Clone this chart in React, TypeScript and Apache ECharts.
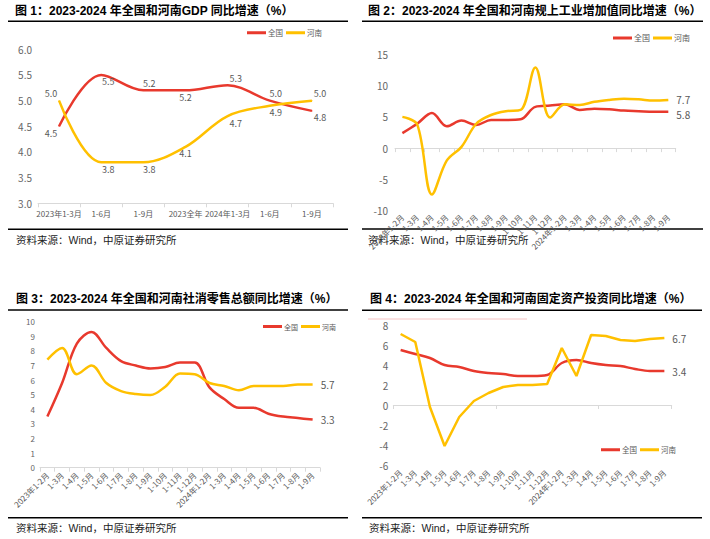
import React, { useEffect, useRef } from 'react';
import * as echarts from 'echarts';

// ---------- Data ----------
const gdpCategories = ['2023年1-3月', '1-6月', '1-9月', '2023全年', '2024年1-3月', '1-6月', '1-9月'];
const gdpNational = [4.5, 5.5, 5.2, 5.2, 5.3, 5.0, 4.8];
const gdpHenan = [5.0, 3.8, 3.8, 4.1, 4.7, 4.9, 5.0];

const monthCategories = [
  '2023年1-2月', '1-3月', '1-4月', '1-5月', '1-6月', '1-7月', '1-8月', '1-9月', '1-10月', '1-11月', '1-12月',
  '2024年1-2月', '1-3月', '1-4月', '1-5月', '1-6月', '1-7月', '1-8月', '1-9月',
];

const ipNational = [2.4, 3.9, 5.6, 3.5, 4.4, 3.7, 4.5, 4.5, 4.6, 6.6, 6.8, 7.0, 6.1, 6.3, 6.2, 6.0, 5.9, 5.8, 5.8];
const ipHenan = [5.0, 3.8, -7.4, -2.0, 0.2, 3.9, 5.3, 5.9, 6.1, 12.9, 4.9, 7.0, 6.9, 7.4, 7.7, 7.9, 7.8, 7.6, 7.7];

const retailNational = [3.5, 5.8, 8.5, 9.3, 8.2, 7.3, 7.0, 6.8, 6.9, 7.2, 7.2, 5.5, 4.7, 4.1, 4.1, 3.7, 3.5, 3.4, 3.3];
const retailHenan = [7.4, 8.2, 6.4, 7.0, 5.8, 5.25, 5.05, 4.98, 5.55, 6.45, 6.4, 5.8, 5.6, 5.3, 5.6, 5.6, 5.6, 5.7, 5.7];

const faiNational = [5.5, 5.1, 4.7, 4.0, 3.8, 3.4, 3.2, 3.1, 2.9, 2.9, 3.0, 4.2, 4.5, 4.2, 4.0, 3.9, 3.6, 3.4, 3.4];
const faiHenan = [7.1, 6.3, -0.2, -4.1, -1.2, 0.4, 1.2, 1.8, 2.0, 2.0, 2.1, 5.7, 2.9, 7.0, 6.9, 6.5, 6.4, 6.6, 6.7];

const seriesNames = ['全国', '河南'];
const titles = [
  '图 1：2023-2024 年全国和河南GDP 同比增速（%）',
  '图 2：2023-2024 年全国和河南规上工业增加值同比增速（%）',
  '图 3：2023-2024 年全国和河南社消零售总额同比增速（%）',
  '图 4：2023-2024 年全国和河南固定资产投资同比增速（%）',
];
const sourceText = '资料来源：Wind，中原证券研究所';

// ---------- Styles ----------
const FONT = "'Noto Sans CJK SC', 'Noto Sans', sans-serif";
const TITLE_FONT = "'Liberation Sans', 'Noto Sans CJK SC', sans-serif";
const RED = '#E8392D';
const YELLOW = '#FFC000';
const AXIS_GRAY = '#D9D9D9';
const LABEL_GRAY = '#595959';

const gdpNationalLabelPos = ['bottom', 'bottom', 'top', 'bottom', 'top', 'top', 'bottom'];
const gdpHenanLabelPos = ['top', 'bottom', 'bottom', 'bottom', 'bottom', 'bottom', 'top'];
const gdpLabelDx = [-8, 7, 6, 0, 8, 6, 8];

const fmt1 = (v: number) => Number(v).toFixed(1);

function catAxis(gridIndex: number, data: string[], extra: any = {}) {
  return {
    type: 'category',
    gridIndex,
    data,
    boundaryGap: true,
    position: 'bottom',
    axisLine: { show: true, onZero: true, lineStyle: { color: AXIS_GRAY, width: 1 } },
    axisTick: { show: true, length: 4, lineStyle: { color: AXIS_GRAY } },
    splitLine: { show: false },
    ...extra,
  };
}

function valAxis(gridIndex: number, min: number, max: number, interval: number, label: any) {
  return {
    type: 'value',
    gridIndex,
    min,
    max,
    interval,
    axisLine: { show: false },
    axisTick: { show: false },
    splitLine: { show: false },
    axisLabel: { color: '#666', fontFamily: FONT, ...label },
  };
}

function lineSeries(name: string, color: string, xi: number, yi: number, data: any[], extra: any = {}) {
  return {
    type: 'line',
    name,
    xAxisIndex: xi,
    yAxisIndex: yi,
    data,
    color,
    symbol: 'none',
    smooth: 0.35,
    lineStyle: { color, width: 2.5 },
    ...extra,
  };
}

function endLabel(offsetY = 0) {
  return {
    show: true,
    formatter: (p: any) => fmt1(p.value),
    color: LABEL_GRAY,
    fontSize: 10,
    fontFamily: FONT,
    distance: 8,
    offset: [0, offsetY],
  };
}

function legend(left: number, top: number, fontSize: number) {
  return {
    data: seriesNames,
    left,
    top,
    orient: 'horizontal',
    icon: 'rect',
    itemWidth: 19,
    itemHeight: 3,
    itemGap: 3,
    padding: 0,
    selectedMode: false,
    textStyle: { fontSize, color: LABEL_GRAY, fontFamily: FONT, padding: [0, 0, 0, -3] },
  };
}

function panelGraphics(titleX: number, titleY: number, lineX1: number, lineX2: number, topLineY: number, bottomLineY: number, srcX: number, srcY: number, title: string) {
  return [
    {
      type: 'text',
      x: titleX,
      y: titleY,
      style: { text: title, fontSize: 12, fontWeight: 'bold', fontFamily: TITLE_FONT, fill: '#000', verticalAlign: 'middle', align: 'left' },
    },
    { type: 'line', shape: { x1: lineX1, y1: topLineY, x2: lineX2, y2: topLineY }, style: { stroke: '#000', lineWidth: 1.5 } },
    { type: 'line', shape: { x1: lineX1, y1: bottomLineY, x2: lineX2, y2: bottomLineY }, style: { stroke: '#000', lineWidth: 1.5 } },
    {
      type: 'text',
      x: srcX,
      y: srcY,
      style: { text: sourceText, fontSize: 10.5, fontFamily: TITLE_FONT, fill: '#222', verticalAlign: 'middle', align: 'left' },
    },
  ];
}

export default function App() {
  const ref = useRef<HTMLDivElement>(null);

  useEffect(() => {
    if (!ref.current) return;
    const chart = echarts.init(ref.current, undefined, { renderer: 'svg' });

    const gdpLabel = { show: true, formatter: (p: any) => fmt1(p.value), color: LABEL_GRAY, fontSize: 9, fontFamily: FONT, distance: 2 };
    const gdpSeriesExtra = { symbol: 'circle', symbolSize: 1, showSymbol: true };

    const option: any = {
      animation: false,
      backgroundColor: '#fff',
      textStyle: { fontFamily: FONT },
      grid: [
        { left: 38, top: 49.3, width: 295, height: 154 },
        { left: 395, top: 54.3, width: 280.7, height: 156.4 },
        { left: 40, top: 321.7, width: 280, height: 146 },
        { left: 393.3, top: 325, width: 278.4, height: 140 },
      ],
      xAxis: [
        catAxis(0, gdpCategories, { axisLabel: { interval: 0, fontSize: 8, color: LABEL_GRAY, margin: 6, fontFamily: FONT } }),
        catAxis(1, monthCategories, { axisLabel: { interval: 0, rotate: 45, fontSize: 8, color: LABEL_GRAY, margin: 5, fontFamily: FONT } }),
        catAxis(2, monthCategories, { axisLabel: { interval: 0, rotate: 45, fontSize: 8, color: LABEL_GRAY, margin: 6, fontFamily: FONT } }),
        catAxis(3, monthCategories, {
          axisLine: { show: false, onZero: false },
          axisTick: { show: false },
          axisLabel: { interval: 0, rotate: 45, fontSize: 8, color: LABEL_GRAY, margin: 6, fontFamily: FONT },
        }),
        catAxis(3, monthCategories, { axisLabel: { show: false } }),
      ],
      yAxis: [
        valAxis(0, 3, 6, 0.5, { fontSize: 10, margin: 6, formatter: (v: number) => v.toFixed(1) }),
        valAxis(1, -10, 15, 5, { fontSize: 10, margin: 7 }),
        valAxis(2, 0, 10, 1, { fontSize: 8, margin: 5 }),
        valAxis(3, -6, 8, 2, { fontSize: 10, margin: 5 }),
      ],
      legend: [legend(247, 29, 7.5), legend(613, 34, 8), legend(263, 323, 7), legend(601, 446, 7.5)],
      graphic: [
        ...panelGraphics(15, 11, 8, 348, 21.3, 229.3, 16, 239.7, titles[0]),
        ...panelGraphics(368, 11, 362, 703, 21.3, 229, 368, 240, titles[1]),
        ...panelGraphics(16, 299, 8, 348, 310, 517.7, 16, 527.7, titles[2]),
        ...panelGraphics(370, 299, 362, 702, 310.3, 517.7, 369, 528, titles[3]),
        { type: 'line', shape: { x1: 368, y1: 319, x2: 527, y2: 319 }, style: { stroke: '#F6C3C3', lineWidth: 1 } },
      ],
      series: [
        lineSeries(
          seriesNames[0], RED, 0, 0,
          gdpNational.map((v, i) => ({ value: v, label: { ...gdpLabel, position: gdpNationalLabelPos[i], offset: [gdpLabelDx[i], 0] } })),
          gdpSeriesExtra
        ),
        lineSeries(
          seriesNames[1], YELLOW, 0, 0,
          gdpHenan.map((v, i) => ({ value: v, label: { ...gdpLabel, position: gdpHenanLabelPos[i], offset: [gdpLabelDx[i], 0] } })),
          gdpSeriesExtra
        ),

        lineSeries(seriesNames[0], RED, 1, 1, ipNational, { endLabel: endLabel(3) }),
        lineSeries(seriesNames[1], YELLOW, 1, 1, ipHenan, { endLabel: endLabel(0) }),

        lineSeries(seriesNames[0], RED, 2, 2, retailNational, { endLabel: endLabel(0) }),
        lineSeries(seriesNames[1], YELLOW, 2, 2, retailHenan, { endLabel: endLabel(0) }),

        lineSeries(seriesNames[0], RED, 3, 3, faiNational, { endLabel: endLabel(0) }),
        lineSeries(seriesNames[1], YELLOW, 3, 3, faiHenan, { smooth: false, endLabel: endLabel(0) }),
      ],
    };

    chart.setOption(option);
    return () => chart.dispose();
  }, []);

  return <div ref={ref} style={{ position: 'fixed', left: 0, top: 0, width: 710, height: 539 }} />;
}
